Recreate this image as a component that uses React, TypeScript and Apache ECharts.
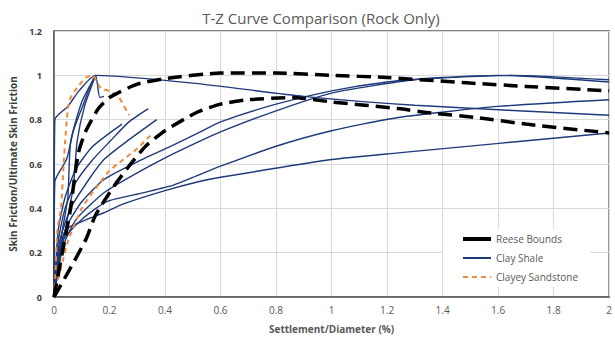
import React, { useEffect, useRef } from "react";
import * as echarts from "echarts";

const xTicks = [0, 0.2, 0.4, 0.6, 0.8, 1, 1.2, 1.4, 1.6, 1.8, 2];
const yTicks = [0, 0.2, 0.4, 0.6, 0.8, 1, 1.2];

const reeseUpper: number[][] = [
  [0, 0], [0.03, 0.2], [0.06, 0.4], [0.075, 0.55], [0.09, 0.66], [0.115, 0.75], [0.16, 0.85],
  [0.2, 0.9], [0.3, 0.96], [0.4, 0.985], [0.6, 1.01], [0.8, 1.01], [1.0, 1.0], [1.2, 0.99],
  [1.5, 0.965], [1.7, 0.95], [2.0, 0.93],
];
const reeseLower: number[][] = [
  [0, 0], [0.05, 0.11], [0.115, 0.26], [0.15, 0.37], [0.216, 0.5], [0.27, 0.59], [0.33, 0.68],
  [0.4, 0.75], [0.51, 0.83], [0.6, 0.87], [0.7, 0.89], [0.86, 0.9], [1.0, 0.88], [1.24, 0.85],
  [1.36, 0.83], [1.52, 0.81], [1.7, 0.78], [2.0, 0.74],
];

const shaleA: number[][] = [
  [0, 0], [0.003, 0.8], [0.05, 0.86], [0.09, 0.93], [0.15, 1.0], [0.5, 0.965], [0.9, 0.905],
  [1.3, 0.865], [2.0, 0.82],
];
const shaleB: number[][] = [
  [0, 0], [0.003, 0.52], [0.045, 0.62], [0.07, 0.75], [0.1, 0.85], [0.15, 1.0], [0.165, 0.9], [0.18, 0.905],
];
const shaleC: number[][] = [
  [0, 0], [0.03, 0.3], [0.05, 0.45], [0.06, 0.7], [0.1, 0.88], [0.15, 1.0],
];
const shaleD: number[][] = [
  [0, 0], [0.04, 0.3], [0.07, 0.5], [0.083, 0.7], [0.11, 0.86], [0.15, 1.0],
];
const shaleE: number[][] = [
  [0, 0], [0.015, 0.25], [0.04, 0.4], [0.08, 0.52], [0.14, 0.62], [0.2, 0.7], [0.27, 0.79], [0.34, 0.85],
];
const shaleF: number[][] = [
  [0, 0], [0.02, 0.25], [0.06, 0.4], [0.12, 0.52], [0.18, 0.62], [0.26, 0.7], [0.37, 0.8],
];
const shaleG: number[][] = [
  [0, 0], [0.015, 0.3], [0.04, 0.45], [0.08, 0.58], [0.14, 0.68], [0.245, 0.78],
];
const shaleH: number[][] = [
  [0, 0], [0.02, 0.22], [0.05, 0.33], [0.1, 0.43], [0.18, 0.53], [0.3, 0.61], [0.42, 0.68],
  [0.52, 0.74], [0.6, 0.79], [0.8, 0.87], [1.0, 0.93], [1.2, 0.97], [1.4, 0.99], [1.6, 1.0], [2.0, 0.97],
];
const shaleI: number[][] = [
  [0, 0], [0.03, 0.22], [0.08, 0.35], [0.18, 0.47], [0.3, 0.56], [0.42, 0.64], [0.52, 0.7],
  [0.6, 0.745], [0.8, 0.84], [1.0, 0.92], [1.3, 0.98], [1.65, 1.0], [2.0, 0.98],
];
const shaleJ: number[][] = [
  [0, 0], [0.03, 0.25], [0.1, 0.35], [0.19, 0.43], [0.32, 0.47], [0.43, 0.505], [0.52, 0.55],
  [0.6, 0.59], [0.8, 0.68], [1.0, 0.75], [1.24, 0.81], [1.6, 0.86], [2.0, 0.89],
];
const shaleK: number[][] = [
  [0, 0], [0.04, 0.3], [0.1, 0.34], [0.18, 0.38], [0.25, 0.42], [0.4, 0.48], [0.52, 0.52],
  [0.6, 0.54], [1.0, 0.62], [1.24, 0.65], [2.0, 0.74],
];

const sandstoneA: number[][] = [
  [0, 0], [0.005, 0.1], [0.012, 0.3], [0.025, 0.4], [0.035, 0.6], [0.04, 0.7], [0.05, 0.85],
  [0.06, 0.9], [0.09, 0.955], [0.115, 0.99], [0.14, 1.0], [0.155, 0.97], [0.17, 0.94], [0.2, 0.93],
  [0.234, 0.9], [0.27, 0.82],
];
const sandstoneB: number[][] = [
  [0, 0], [0.05, 0.25], [0.1, 0.4], [0.15, 0.49], [0.2, 0.57], [0.25, 0.62], [0.3, 0.67], [0.34, 0.72], [0.36, 0.74],
];

const shaleCurves = [shaleA, shaleB, shaleC, shaleD, shaleE, shaleF, shaleG, shaleH, shaleI, shaleJ, shaleK];
const sandstoneCurves = [sandstoneA, sandstoneB];
const reeseCurves = [reeseUpper, reeseLower];

const FONT = "'Open Sans', 'Noto Sans', sans-serif";

export default function App() {
  const ref = useRef<HTMLDivElement>(null);
  useEffect(() => {
    if (!ref.current) return;
    const chart = echarts.init(ref.current, null, { renderer: "svg" });
    const series: any[] = [];
    shaleCurves.forEach((d) =>
      series.push({
        name: "Clay Shale",
        type: "line",
        data: d,
        symbol: "none",
        smooth: 0.2,
        lineStyle: { color: "#1f3a7a", width: 1.4 },
        itemStyle: { color: "#1f3a7a" },
      })
    );
    sandstoneCurves.forEach((d) =>
      series.push({
        name: "Clayey Sandstone",
        type: "line",
        data: d,
        symbol: "none",
        smooth: 0.2,
        lineStyle: { color: "#f08a3c", width: 2, type: [5, 4] },
        itemStyle: { color: "#f08a3c" },
      })
    );
    reeseCurves.forEach((d) =>
      series.push({
        name: "Reese Bounds",
        type: "line",
        data: d,
        symbol: "none",
        smooth: 0.2,
        lineStyle: { color: "#000", width: 3.5, type: [14, 7] },
        itemStyle: { color: "#000" },
      })
    );
    chart.setOption({
      animation: false,
      title: {
        text: "T-Z Curve Comparison (Rock Only)",
        left: 316,
        textAlign: "center",
        top: 5,
        textStyle: { fontFamily: FONT, fontSize: 15, fontWeight: "normal", color: "#595959" },
      },
      grid: {
        left: 54,
        right: 5,
        top: 31,
        bottom: 46,
        show: true,
        borderColor: "#595959",
        borderWidth: 1.5,
      },
      legend: {
        orient: "vertical",
        left: 443,
        top: 229,
        data: [
          { name: "Reese Bounds", lineStyle: { type: "solid", width: 4 } },
          { name: "Clay Shale" },
          { name: "Clayey Sandstone" },
        ],
        backgroundColor: "#ffffff",
        padding: [5, 12, 5, 18],
        itemWidth: 28,
        itemHeight: 10,
        itemGap: 9,
        itemStyle: { opacity: 0 },
        textStyle: { fontFamily: FONT, fontSize: 10, color: "#595959" },
      },
      xAxis: {
        type: "value",
        min: 0,
        max: 2,
        interval: 0.2,
        name: "Settlement/Diameter (%)",
        nameLocation: "middle",
        nameGap: 27,
        nameTextStyle: { fontFamily: FONT, fontSize: 10, fontWeight: "bold", color: "#595959" },
        axisLine: { lineStyle: { color: "#595959", width: 1.5 } },
        axisTick: { show: false },
        axisLabel: {
          fontFamily: FONT,
          fontSize: 10,
          color: "#595959",
          margin: 8,
          formatter: (v: number) => String(xTicks.find((t) => Math.abs(t - v) < 1e-9) ?? v),
        },
        splitLine: { lineStyle: { color: "#d9d9d9", width: 1 } },
      },
      yAxis: {
        type: "value",
        min: 0,
        max: 1.2,
        interval: 0.2,
        name: "Skin Friction/Ultimate Skin Friction",
        nameLocation: "middle",
        nameGap: 32,
        nameTextStyle: { fontFamily: FONT, fontSize: 10, fontWeight: "bold", color: "#404040" },
        axisLine: { show: true, lineStyle: { color: "#595959", width: 1.5 } },
        axisTick: { show: false },
        axisLabel: {
          fontFamily: FONT,
          fontSize: 9,
          fontWeight: "bold",
          color: "#404040",
          margin: 12,
          formatter: (v: number) => String(yTicks.find((t) => Math.abs(t - v) < 1e-9) ?? v),
        },
        splitLine: { lineStyle: { color: "#d9d9d9", width: 1 } },
      },
      series,
    });
    return () => chart.dispose();
  }, []);
  return <div ref={ref} style={{ width: 615, height: 343, position: "absolute", left: 0, top: 0 }} />;
}
